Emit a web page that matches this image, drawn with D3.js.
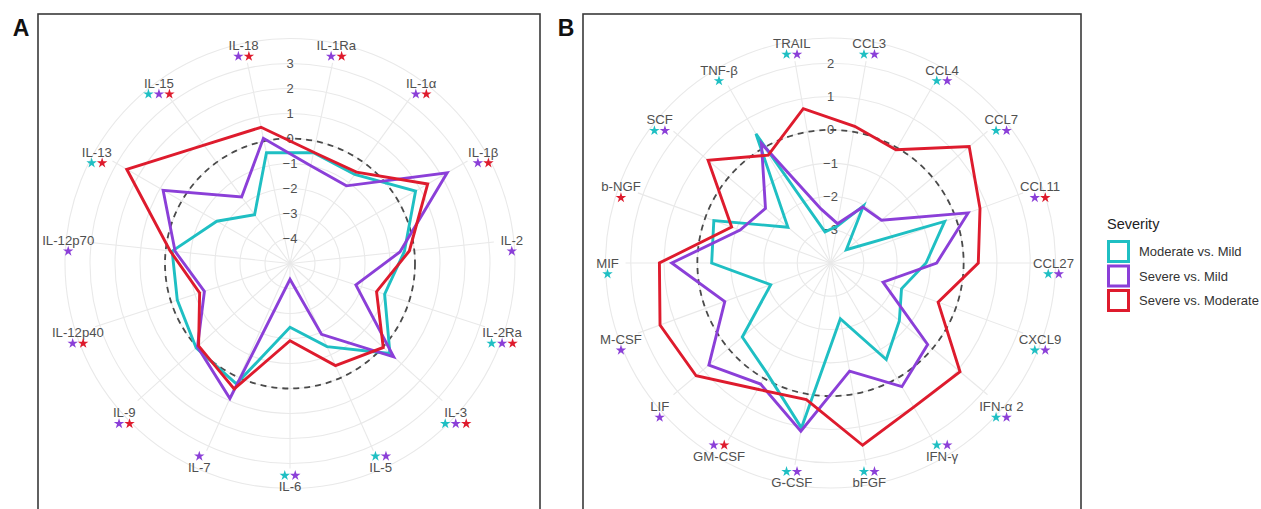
<!DOCTYPE html>
<html>
<head>
<meta charset="utf-8">
<script src="https://cdn.jsdelivr.net/npm/d3@7"></script>
<style>
  body { margin: 0; background: #fff; font-family: "Liberation Sans", Arial, sans-serif; }
</style>
</head>
<body>
<div id="chart"></div>
<script>
// Series
let seriesNames = ["Moderate vs. Mild", "Severe vs. Mild", "Severe vs. Moderate"];
let seriesColors = ["#1fbfc3", "#8b3fd8", "#de1b2d"];

// Panel A data (clockwise from top)
let cytokinesA = ["IL-1Ra", "IL-1α", "IL-1β", "IL-2", "IL-2Ra", "IL-3", "IL-5", "IL-6",
  "IL-7", "IL-9", "IL-12p40", "IL-12p70", "IL-13", "IL-15", "IL-18"];
let moderateVsMildA = [-0.47, -0.6, 0.8, -0.4, -1.02, 0.38, -1.36, -2.45, 0.27, 0.05, -0.26, -0.26, -1.62, -2.59, -0.47];
let severeVsMildA = [-1.0, -1.16, 2.26, -0.58, -2.23, 0.58, -1.9, -4.37, 0.91, -0.02, -1.4, -0.38, 0.86, -1.71, 0.12];
let severeVsModerateA = [-0.45, -0.48, 1.36, -0.2, -1.36, 0.02, -0.53, -1.91, 0.49, -0.08, -1.2, -0.18, 2.54, 0.85, 0.57];
let ticksA = [-4, -3, -2, -1, 0, 1, 2, 3];
// significance stars: index into series
let starsA = [[1, 2], [1, 2], [1, 2], [1], [0, 1, 2], [0, 1, 2], [0, 1], [0, 1],
  [1], [1, 2], [1, 2], [1], [0, 2], [0, 1, 2], [1, 2]];

// Panel B data (clockwise from top)
let cytokinesB = ["CCL3", "CCL4", "CCL7", "CCL11", "CCL27", "CXCL9", "IFN-α 2", "IFN-γ", "bFGF",
  "G-CSF", "GM-CSF", "LIF", "M-CSF", "MIF", "b-NGF", "SCF", "TNF-β", "TRAIL"];
let moderateVsMildB = [-2.88, -2.02, -3.38, -0.35, -1.13, -1.73, -1.3, -0.65, -2.3,
  1.03, -0.18, -0.54, -2.09, -0.43, -0.27, -2.33, 0.48, -3.05];
let severeVsMildB = [-2.8, -2.06, -2.0, 0.4, -0.81, -2.32, -0.19, 0.29, -0.7,
  1.13, 0.2, 0.77, -0.62, 0.77, -1.11, -1.45, 0.15, -2.35];
let severeVsModerateB = [0.17, -0.07, 1.44, 0.78, 0.44, -0.56, 1.08, 1.0, 1.56,
  0.17, 0.38, 1.27, 1.45, 1.14, -0.84, 0.8, -0.26, 0.71];
let ticksB = [-3, -2, -1, 0, 1, 2];
let starsB = [[0, 1], [0, 1], [0, 1], [1, 2], [0, 1], [0, 1], [0, 1], [0, 1], [0, 1],
  [0, 1], [1, 2], [1], [1], [0], [2], [0, 1], [0], [0, 1]];

// Set up dimensions
let width = 1261;
let height = 509;
let outerRadius = 225;
let spokeRadius = 205;
let labelRadius = 223;
let starOffset = 11;

// Set up colors
let gridStroke = "#e9e9e9";
let textFill = "#505050";
let zeroStroke = "#4a4a4a";

const svg = d3.select("#chart").append("svg").attr("width", width).attr("height", height);

// Draw panel frames
let frames = [
  { letter: "A", x: 38, y: 14, w: 502, lx: 21 },
  { letter: "B", x: 583, y: 14, w: 498, lx: 566 },
];
svg.selectAll("rect.frame")
  .data(frames)
  .join("rect")
  .attr("class", "frame")
  .attr("x", (d) => d.x)
  .attr("y", (d) => d.y)
  .attr("width", (d) => d.w)
  .attr("height", 520)
  .attr("fill", "none")
  .attr("stroke", "#3a3a3a")
  .attr("stroke-width", 1.6);
svg.selectAll("text.letter")
  .data(frames)
  .join("text")
  .attr("class", "letter")
  .attr("x", (d) => d.lx)
  .attr("y", 36)
  .attr("text-anchor", "middle")
  .attr("font-size", 23)
  .attr("font-weight", "bold")
  .attr("fill", "#111")
  .text((d) => d.letter);

function drawRadar(opts) {
  let { cx, cy, labels, series, ticks, rScale, startDeg, stars } = opts;
  let n = labels.length;
  let start = (startDeg * Math.PI) / 180;
  let angle = d3.scaleLinear().domain([0, n]).range([start, start + 2 * Math.PI]);

  const g = svg.append("g").attr("transform", `translate(${cx},${cy})`);

  // Grid circles
  g.append("g")
    .selectAll("circle")
    .data(ticks)
    .join("circle")
    .attr("r", (d) => rScale(d))
    .attr("fill", "none")
    .attr("stroke", gridStroke)
    .attr("stroke-width", 1.1);
  g.append("circle")
    .attr("r", outerRadius)
    .attr("fill", "none")
    .attr("stroke", gridStroke)
    .attr("stroke-width", 1.1);

  // Spokes
  g.append("g")
    .selectAll("line")
    .data(labels)
    .join("line")
    .attr("x1", 0)
    .attr("y1", 0)
    .attr("x2", (d, i) => Math.sin(angle(i)) * spokeRadius)
    .attr("y2", (d, i) => -Math.cos(angle(i)) * spokeRadius)
    .attr("stroke", gridStroke)
    .attr("stroke-width", 1.1);

  // Tick labels
  g.append("g")
    .selectAll("text")
    .data(ticks)
    .join("text")
    .attr("x", 0)
    .attr("y", (d) => -rScale(d))
    .attr("dy", "0.35em")
    .attr("text-anchor", "middle")
    .attr("font-size", 13)
    .attr("fill", textFill)
    .text((d) => (d < 0 ? "−" + Math.abs(d) : d));

  // Zero reference
  g.append("circle")
    .attr("r", rScale(0))
    .attr("fill", "none")
    .attr("stroke", zeroStroke)
    .attr("stroke-width", 1.8)
    .attr("stroke-dasharray", "6,5");

  // Series lines
  let line = d3.lineRadial()
    .angle((d, i) => angle(i))
    .radius((d) => rScale(d))
    .curve(d3.curveLinearClosed);
  g.append("g")
    .selectAll("path")
    .data(series)
    .join("path")
    .attr("d", (d) => line(d))
    .attr("fill", "none")
    .attr("stroke", (d, i) => seriesColors[i])
    .attr("stroke-width", 2.9)
    .attr("stroke-linejoin", "miter");

  // Category labels with significance stars
  let lab = g.append("g")
    .selectAll("g")
    .data(labels)
    .join("g")
    .attr("transform", (d, i) =>
      `translate(${Math.sin(angle(i)) * labelRadius},${-Math.cos(angle(i)) * labelRadius})`);

  lab.append("text")
    .attr("text-anchor", "middle")
    .attr("dy", "0.35em")
    .attr("font-size", 13.2)
    .attr("fill", textFill)
    .text((d) => d);

  lab.each(function (d, i) {
    let deg = ((angle(i) * 180) / Math.PI) % 360;
    let above = Math.abs(deg - 180) <= 31;
    let s = stars[i];
    d3.select(this)
      .selectAll("path")
      .data(s)
      .join("path")
      .attr("d", d3.symbol(d3.symbolStar).size(34))
      .attr("transform", (e, j) =>
        `translate(${(j - (s.length - 1) / 2) * 10.5},${above ? -starOffset : starOffset})`)
      .attr("fill", (e) => seriesColors[e]);
  });
}

drawRadar({
  cx: 290,
  cy: 263.5,
  labels: cytokinesA,
  series: [moderateVsMildA, severeVsMildA, severeVsModerateA],
  ticks: ticksA,
  rScale: d3.scaleLinear().domain([-5, 4]).range([0, 225]),
  startDeg: 12,
  stars: starsA,
});

drawRadar({
  cx: 830.5,
  cy: 263,
  labels: cytokinesB,
  series: [moderateVsMildB, severeVsMildB, severeVsModerateB],
  ticks: ticksB,
  rScale: d3.scaleLinear().domain([-4, 3]).range([0, 233]),
  startDeg: 10,
  stars: starsB,
});

// Legend
let legend = svg.append("g").attr("transform", "translate(1107,0)");
legend.append("text")
  .attr("x", 0)
  .attr("y", 229)
  .attr("font-size", 14.5)
  .attr("fill", "#222")
  .text("Severity");
let legendItem = legend.selectAll("g.item")
  .data(seriesNames)
  .join("g")
  .attr("class", "item")
  .attr("transform", (d, i) => `translate(0,${240 + i * 24.5})`);
legendItem.append("rect")
  .attr("x", 1.5)
  .attr("y", 1.5)
  .attr("width", 20)
  .attr("height", 20)
  .attr("fill", "#fff")
  .attr("stroke", (d, i) => seriesColors[i])
  .attr("stroke-width", 3);
legendItem.append("text")
  .attr("x", 32)
  .attr("y", 11.5)
  .attr("dy", "0.35em")
  .attr("font-size", 13)
  .attr("fill", "#333")
  .text((d) => d);
</script>
</body>
</html>
